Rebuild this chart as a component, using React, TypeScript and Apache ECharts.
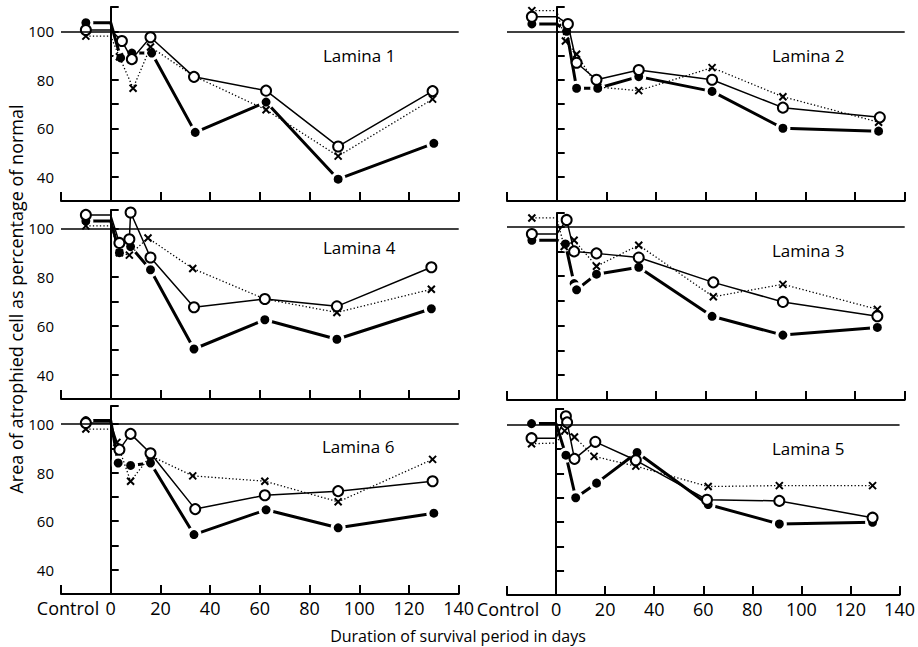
import React, { useEffect, useRef } from 'react';
import * as echarts from 'echarts';

// [day, % of normal] ; day -10 = control, day 0 = end of control segment
const lamina1Filled = [[-10, 103.5], [0, 103.5], [4, 89], [8.5, 91], [16.5, 91], [34, 58.3], [62.5, 70.8], [91.5, 39], [130, 53.8]];
const lamina1Open = [[-10, 100.5], [0, 100.5], [4.5, 96], [8.5, 88.5], [16, 97.5], [33.5, 81.2], [62.5, 75.5], [91.5, 52.5], [129.5, 75.3]];
const lamina1Cross = [[-10, 98], [0, 98], [3.5, 89.5], [9, 76.5], [16, 93.5], [33.5, 81.5], [62.5, 67.6], [91.5, 48.5], [129.5, 72]];

const lamina2Filled = [[-10, 103], [0, 103], [4, 100], [8, 76.5], [16.5, 76.5], [33, 81.3], [62.5, 75.2], [91, 60], [129.5, 58.8]];
const lamina2Open = [[-10, 106], [0, 106], [4.5, 103], [8, 87], [16, 80], [33, 84], [62.5, 80], [91, 68.5], [130, 64.5]];
const lamina2Cross = [[-10, 108.5], [0, 108.5], [3.5, 96], [8, 90.5], [16.5, 77], [33, 75.5], [62.5, 85], [91, 73], [129.5, 62.5]];

const lamina4Filled = [[-10, 103], [0, 103], [3.5, 90], [8, 92.5], [16, 83], [33.5, 50.5], [62, 62.5], [91, 54.5], [129, 67]];
const lamina4Open = [[-10, 105.5], [0, 105.5], [3.5, 94], [7.5, 95.5], [8, 106.5], [16, 88], [33.5, 67.6], [62, 71], [91, 68], [129, 84]];
const lamina4Cross = [[-10, 101], [0, 101], [3.5, 90], [7.5, 89], [15, 96], [33, 83.5], [62, 71], [91, 65.5], [129, 75]];

const lamina3Filled = [[-10, 94.5], [0, 94.5], [3.5, 93], [7, 77], [8, 74.5], [16, 80.8], [33, 83.6], [62.5, 63.8], [91, 56.2], [129, 59.3]];
const lamina3Open = [[-10, 97], [0, 97], [4, 102.7], [7, 90], [16, 89.2], [33, 87.5], [63, 77.5], [91, 69.6], [129, 63.8]];
const lamina3Cross = [[-10, 103.5], [0, 103.5], [3, 92], [7, 94.5], [16, 84], [33, 92.5], [63, 71.7], [91, 76.7], [129, 66.6]];

const lamina6Filled = [[-10, 101.5], [0, 101.5], [3, 84], [8, 83], [16, 84], [33.5, 54.5], [62.5, 64.7], [91.5, 57.3], [130, 63.3]];
const lamina6Open = [[-10, 100.5], [0, 100.5], [3.5, 89.5], [8, 96], [16, 88], [34, 65], [62, 70.7], [91.5, 72.4], [129.5, 76.5]];
const lamina6Cross = [[-10, 98], [0, 98], [2.5, 92.5], [8, 76.5], [16, 87], [33, 78.7], [62, 76.5], [91.5, 68], [129.5, 85.5]];

const lamina5Filled = [[-10, 100.5], [0, 100.5], [4, 87.5], [8, 70], [16.5, 76], [33, 88.6], [62, 67.2], [91, 59.2], [129, 59.9]];
const lamina5Open = [[-10, 94.5], [0, 94.5], [4, 103.5], [4.5, 101], [7.5, 86], [16, 93], [32.5, 85.4], [61.5, 69.2], [91, 68.7], [129, 61.8]];
const lamina5Cross = [[-10, 92.2], [0, 92.5], [3.5, 97.5], [7.5, 95], [15.5, 87], [32.5, 83], [62, 74.6], [91, 75], [129, 75]];

const yLabelValues = [40, 60, 80, 100];
const xLabelValues = [0, 20, 40, 60, 80, 100, 120, 140];
const controlLabel = 'Control';

const panelNames = ['Lamina 1', 'Lamina 2', 'Lamina 4', 'Lamina 3', 'Lamina 6', 'Lamina 5'];
const panelSeries = [
  [lamina1Filled, lamina1Open, lamina1Cross],
  [lamina2Filled, lamina2Open, lamina2Cross],
  [lamina4Filled, lamina4Open, lamina4Cross],
  [lamina3Filled, lamina3Open, lamina3Cross],
  [lamina6Filled, lamina6Open, lamina6Cross],
  [lamina5Filled, lamina5Open, lamina5Cross],
];

// layout (not data)
const layouts = [
  { left: 61, top: 7, height: 194, max: 110, labelX: 323, labelY: 55, yLabels: true, xLabels: false, ctrlPad: 14 },
  { left: 507, top: 7, height: 194, max: 110, labelX: 772, labelY: 55, yLabels: false, xLabels: false, ctrlPad: 2 },
  { left: 61, top: 210, height: 189, max: 107.5, labelX: 323, labelY: 247, yLabels: true, xLabels: false, ctrlPad: 14 },
  { left: 507, top: 213, height: 187, max: 105.5, labelX: 772, labelY: 250, yLabels: false, xLabels: false, ctrlPad: 2 },
  { left: 61, top: 406, height: 188, max: 107.5, labelX: 322, labelY: 446, yLabels: true, xLabels: true, ctrlPad: 14 },
  { left: 507, top: 409, height: 186, max: 106.5, labelX: 772, labelY: 448, yLabels: false, xLabels: true, ctrlPad: 2 },
];
const GRID_W = 397.7;
const FONT = '"Open Sans", "DejaVu Sans", sans-serif';

function toData(pairs: number[][]) {
  return pairs.map((p) => (p[0] === 0 ? { value: p, symbol: 'none' } : { value: p }));
}

export default function App() {
  const ref = useRef<HTMLDivElement>(null);
  useEffect(() => {
    if (!ref.current) return;
    const chart = echarts.init(ref.current, null, { renderer: 'svg' });
    const grid: any[] = [];
    const xAxis: any[] = [];
    const yAxis: any[] = [];
    const series: any[] = [];
    const graphic: any[] = [];
    layouts.forEach((L, i) => {
      grid.push({ left: L.left, top: L.top, width: GRID_W, height: L.height, containLabel: false });
      xAxis.push({
        type: 'value', gridIndex: i, min: -20, max: 140, interval: 20,
        axisLine: { show: true, lineStyle: { color: '#000', width: 2 } },
        axisTick: { show: true, inside: true, length: 9, lineStyle: { color: '#000', width: 2 } },
        splitLine: { show: false },
        axisLabel: {
          show: L.xLabels, margin: 5, color: '#000', fontSize: 18, fontWeight: 500, fontFamily: FONT,
          showMinLabel: true, showMaxLabel: true,
          formatter: (v: number) => (v === -20 ? '{c|' + controlLabel + '}' : xLabelValues.includes(v) ? String(v) : ''),
          rich: { c: { fontSize: 18, fontWeight: 500, fontFamily: FONT, color: '#000', padding: [0, 0, 0, L.ctrlPad] } },
        },
      });
      yAxis.push({
        type: 'value', gridIndex: i, min: 30, max: L.max, interval: 10,
        axisLine: { show: true, lineStyle: { color: '#000', width: 2 } },
        axisTick: { show: true, inside: true, length: 8, lineStyle: { color: '#000', width: 2 } },
        splitLine: { show: false },
        axisLabel: {
          show: L.yLabels, margin: 7, color: '#000', fontSize: 15, fontWeight: 500, fontFamily: FONT,
          formatter: (v: number) => (yLabelValues.includes(v) ? String(v) : ''),
        },
      });
      const [filled, open, cross] = panelSeries[i];
      series.push({
        type: 'line', xAxisIndex: i, yAxisIndex: i, z: 2, data: toData(filled),
        symbol: 'circle', symbolSize: 12,
        lineStyle: { color: '#000', width: 3 },
        itemStyle: { color: '#000', borderColor: '#fff', borderWidth: 3 },
      });
      series.push({
        type: 'line', xAxisIndex: i, yAxisIndex: i, z: 3, data: toData(cross),
        symbol: 'path://M0,0L10,10M10,0L0,10', symbolSize: 7,
        lineStyle: { color: '#000', width: 1.3, type: [1.3, 2.2] },
        itemStyle: { color: 'rgba(0,0,0,0)', borderColor: '#000', borderWidth: 2 },
        markLine: {
          silent: true, symbol: ['none', 'none'], label: { show: false },
          lineStyle: { color: '#000', width: 1.6, type: 'solid' },
          data: [{ xAxis: 0 }, { yAxis: 100 }],
        },
      });
      series.push({
        type: 'line', xAxisIndex: i, yAxisIndex: i, z: 4, data: toData(open),
        symbol: 'circle', symbolSize: 10,
        lineStyle: { color: '#000', width: 1.5 },
        itemStyle: { color: '#fff', borderColor: '#000', borderWidth: 2 },
      });
      graphic.push({
        type: 'text', x: L.labelX, y: L.labelY,
        style: { text: panelNames[i], font: '500 17px ' + FONT, fill: '#000', align: 'left', verticalAlign: 'middle' },
      });
    });
    graphic.push({
      type: 'text', x: 16, y: 299, rotation: Math.PI / 2,
      style: { text: 'Area of atrophied cell as percentage of normal', font: '500 18px ' + FONT, fill: '#000', align: 'center', verticalAlign: 'middle' },
    });
    graphic.push({
      type: 'text', x: 458, y: 636,
      style: { text: 'Duration of survival period in days', font: '500 16px ' + FONT, fill: '#000', align: 'center', verticalAlign: 'middle' },
    });
    chart.setOption({
      animation: false,
      backgroundColor: '#fff',
      textStyle: { fontFamily: FONT },
      grid, xAxis, yAxis, series, graphic,
    });
    return () => chart.dispose();
  }, []);
  return <div ref={ref} style={{ position: 'fixed', left: 0, top: 0, width: 918, height: 647 }} />;
}
